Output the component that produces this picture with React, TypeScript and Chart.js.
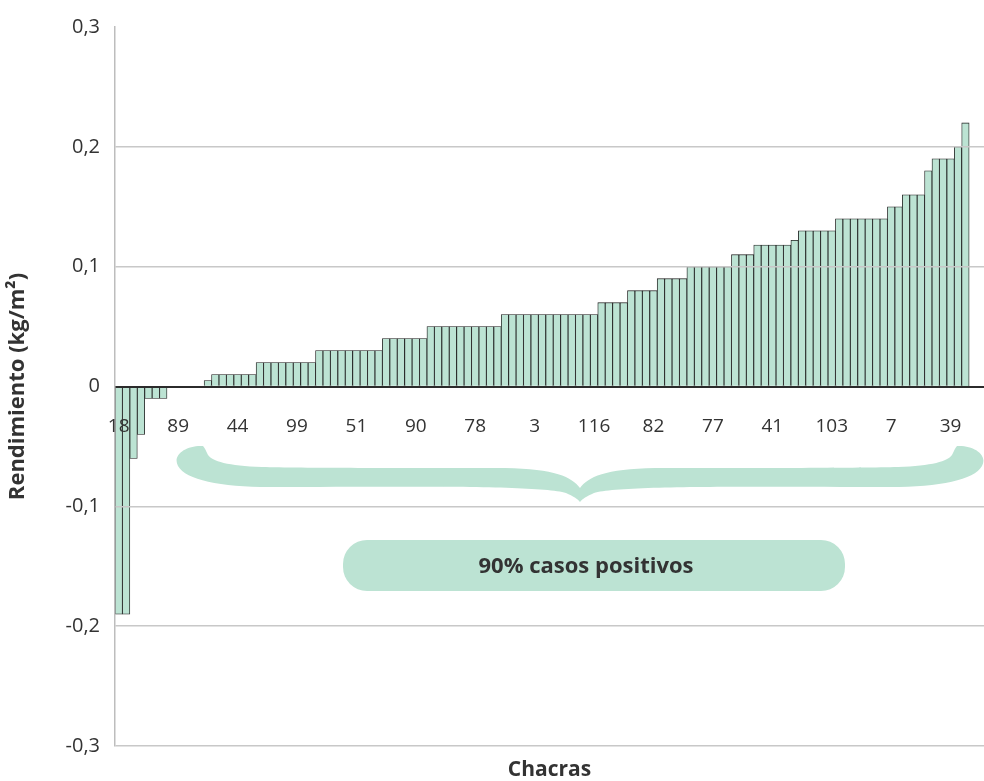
import React, { useEffect, useRef } from "react";
import { Chart, registerables } from "chart.js";

Chart.register(...registerables);

// ---- data ----
const tickLabels = ["18", "89", "44", "99", "51", "90", "78", "3", "116", "82", "77", "41", "103", "7", "39"];
const labelEvery = 8;
const trailingEmpty = 2;

const values: number[] = [
  -0.19, -0.19, -0.06, -0.04, -0.01, -0.01, -0.01,
  0, 0, 0, 0, 0,
  0.005,
  0.01, 0.01, 0.01, 0.01, 0.01, 0.01,
  0.02, 0.02, 0.02, 0.02, 0.02, 0.02, 0.02, 0.02,
  0.03, 0.03, 0.03, 0.03, 0.03, 0.03, 0.03, 0.03, 0.03,
  0.04, 0.04, 0.04, 0.04, 0.04, 0.04,
  0.05, 0.05, 0.05, 0.05, 0.05, 0.05, 0.05, 0.05, 0.05, 0.05,
  0.06, 0.06, 0.06, 0.06, 0.06, 0.06, 0.06, 0.06, 0.06, 0.06, 0.06, 0.06, 0.06,
  0.07, 0.07, 0.07, 0.07,
  0.08, 0.08, 0.08, 0.08,
  0.09, 0.09, 0.09, 0.09,
  0.1, 0.1, 0.1, 0.1, 0.1, 0.1,
  0.11, 0.11, 0.11,
  0.118, 0.118, 0.118, 0.118, 0.118,
  0.122,
  0.13, 0.13, 0.13, 0.13, 0.13,
  0.14, 0.14, 0.14, 0.14, 0.14, 0.14, 0.14,
  0.15, 0.15,
  0.16, 0.16, 0.16,
  0.18,
  0.19, 0.19, 0.19,
  0.2,
  0.22,
];

const yMin = -0.3;
const yMax = 0.3;
const yStep = 0.1;
const yTitle = "Rendimiento (kg/m²)";
const xTitle = "Chacras";
const noteText = "90% casos positivos";

const FONT = "'Open Sans', 'Noto Sans', sans-serif";
const TEXT = "#333333";
const MINT = "#bce3d3";

const categories = Array.from({ length: values.length + trailingEmpty }, (_, i) =>
  i % labelEvery === 0 ? tickLabels[i / labelEvery] ?? "" : ""
);

type Seg = [number, number, number, number, number, number];

function reverseChain(start: [number, number], segs: Seg[]): { start: [number, number]; segs: Seg[] } {
  const pts: [number, number][] = [start, ...segs.map((s) => [s[4], s[5]] as [number, number])];
  const out: Seg[] = [];
  for (let i = segs.length - 1; i >= 0; i--) {
    const s = segs[i];
    const p = pts[i];
    out.push([s[2], s[3], s[0], s[1], p[0], p[1]]);
  }
  return { start: pts[pts.length - 1], segs: out };
}

const annotationPlugin = {
  id: "annotations",
  afterDraw(chart: any) {
    const ctx: CanvasRenderingContext2D = chart.ctx;
    const area = chart.chartArea;
    ctx.save();

    // curly brace
    const cx = 580;
    const m = (x: number) => 2 * cx - x;
    const outerStart: [number, number] = [203, 446];
    const outer: Seg[] = [
      [186, 445, 172, 455, 178, 466],
      [186, 480, 220, 487, 270, 487],
      [400, 487, 540, 485, 566, 493],
      [573, 496, 578, 499, 580, 502],
    ];
    const innerStart: [number, number] = [580, 488];
    const inner: Seg[] = [
      [572, 477, 555, 469, 505, 468],
      [400, 468, 300, 468, 262, 467],
      [228, 466, 212, 461, 208, 455],
      [206, 451, 205, 448, 203, 446],
    ];
    const mirrorSeg = (s: Seg): Seg => [m(s[0]), s[1], m(s[2]), s[3], m(s[4]), s[5]];
    ctx.beginPath();
    ctx.moveTo(outerStart[0], outerStart[1]);
    outer.forEach((s) => ctx.bezierCurveTo(...s));
    const outerR = reverseChain([m(outerStart[0]), outerStart[1]], outer.map(mirrorSeg));
    outerR.segs.forEach((s) => ctx.bezierCurveTo(...s));
    const innerR = reverseChain([m(innerStart[0]), innerStart[1]], inner.map(mirrorSeg));
    innerR.segs.forEach((s) => ctx.bezierCurveTo(...s));
    inner.forEach((s) => ctx.bezierCurveTo(...s));
    ctx.closePath();
    ctx.fillStyle = MINT;
    ctx.fill();

    // rounded box
    const bx = 343, by = 540, bw = 502, bh = 51, r = 24;
    ctx.beginPath();
    ctx.moveTo(bx + r, by);
    ctx.lineTo(bx + bw - r, by);
    ctx.arcTo(bx + bw, by, bx + bw, by + r, r);
    ctx.lineTo(bx + bw, by + bh - r);
    ctx.arcTo(bx + bw, by + bh, bx + bw - r, by + bh, r);
    ctx.lineTo(bx + r, by + bh);
    ctx.arcTo(bx, by + bh, bx, by + bh - r, r);
    ctx.lineTo(bx, by + r);
    ctx.arcTo(bx, by, bx + r, by, r);
    ctx.closePath();
    ctx.fill();

    ctx.fillStyle = TEXT;
    ctx.textAlign = "center";
    ctx.textBaseline = "middle";
    ctx.font = `bold 22px ${FONT}`;
    ctx.fillText(noteText, bx + bw / 2 - 8, by + bh / 2 + 1);

    // x axis title
    ctx.font = `bold 21px ${FONT}`;
    ctx.fillText(xTitle, (area.left + area.right) / 2, 770);
    ctx.restore();
  },
};

export default function App() {
  const ref = useRef<HTMLCanvasElement | null>(null);

  useEffect(() => {
    if (!ref.current) return;
    const chart = new Chart(ref.current, {
      type: "bar",
      data: {
        labels: categories,
        datasets: [
          {
            data: values,
            backgroundColor: MINT,
            borderColor: "#1f1f1f",
            borderWidth: 0.85,
            barPercentage: 1,
            categoryPercentage: 1,
          },
        ],
      },
      options: {
        responsive: false,
        animation: false,
        layout: { padding: { top: 24, bottom: 35, left: 0, right: 0 } },
        plugins: { legend: { display: false }, tooltip: { enabled: false } },
        scales: {
          x: {
            type: "category",
            position: { y: 0 } as any,
            offset: true,
            grid: { display: false, drawTicks: false },
            border: { display: true, color: "#2b2b2b", width: 2, z: 2 },
            ticks: {
              autoSkip: false,
              maxRotation: 0,
              minRotation: 0,
              padding: 29,
              z: 3,
              color: TEXT,
              font: { family: FONT, size: 19 },
            },
            afterFit: (s: any) => {
              s.paddingLeft = 0;
              s.paddingRight = 0;
            },
          },
          y: {
            min: yMin,
            max: yMax,
            ticks: {
              stepSize: yStep,
              padding: 15,
              color: TEXT,
              font: { family: FONT, size: 20 },
              callback: (v: any) => {
                const n = Number(v);
                if (Math.abs(n) < 1e-9) return "0";
                return n.toFixed(1).replace(".", ",");
              },
            },
            grid: {
              z: 1,
              drawTicks: false,
              lineWidth: 1.5,
              color: (c: any) => {
                const val = c.tick ? c.tick.value : null;
                if (val === null) return "#c8c8c8";
                if (Math.abs(val - yMax) < 1e-6 || Math.abs(val) < 1e-6) return "rgba(0,0,0,0)";
                return "#c8c8c8";
              },
            },
            border: { display: true, color: "#bdbdbd", width: 1.5, z: 2 },
            title: {
              display: true,
              text: yTitle,
              color: TEXT,
              font: { family: FONT, size: 22, weight: "bold" },
              padding: { top: 5, bottom: 0 },
            },
            afterFit: (s: any) => {
              s.width = 115;
            },
          },
        },
      },
      plugins: [annotationPlugin],
    });
    return () => chart.destroy();
  }, []);

  return (
    <div style={{ position: "absolute", left: 0, top: 0, width: 984, height: 781, background: "#fff" }}>
      <canvas ref={ref} width={984} height={781} style={{ display: "block" }} />
    </div>
  );
}
